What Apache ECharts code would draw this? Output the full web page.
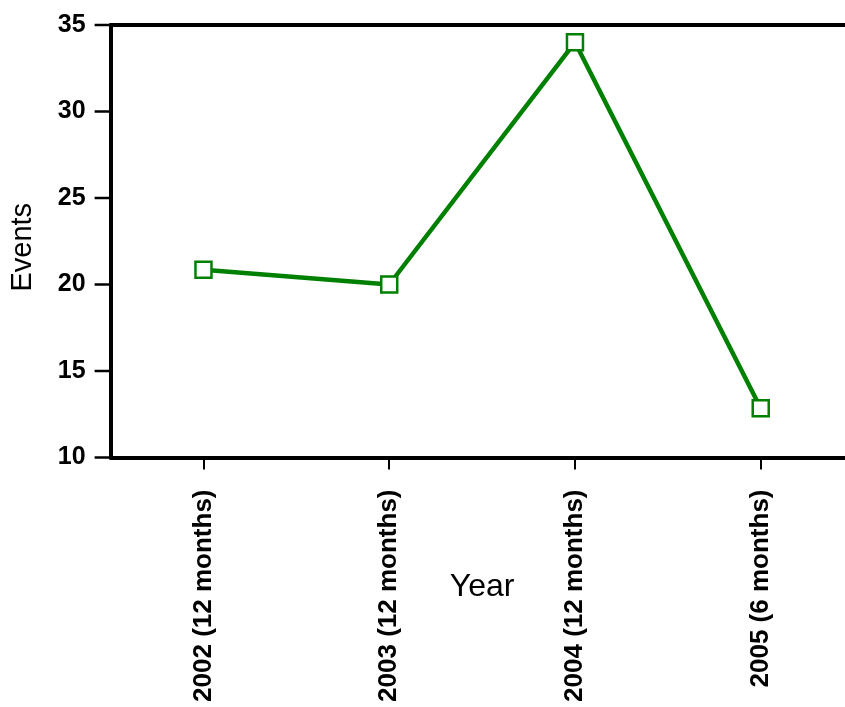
<!DOCTYPE html>
<html>
<head>
<meta charset="utf-8">
<script src="https://cdn.jsdelivr.net/npm/echarts@6/dist/echarts.min.js"></script>
<style>
  html, body { margin: 0; padding: 0; background: #fff; }
  #chart { width: 845px; height: 707px; }
</style>
</head>
<body>
<div id="chart"></div>
<script>
// Events recorded per year
const years = ['2002 (12 months)', '2003 (12 months)', '2004 (12 months)', '2005 (6 months)'];
const events = [20.85, 20, 34, 12.85];
const yTicks = { min: 10, max: 35, step: 5 };
const yTickValues = [10, 15, 20, 25, 30, 35];

const FONT = 'Arial, "Liberation Sans", sans-serif';
const GREEN = '#008000';
const TICK_LEN = 16;

const chart = echarts.init(document.getElementById('chart'), null, { renderer: 'canvas' });
chart.setOption({
  animation: false,
  backgroundColor: '#fff',
  grid: {
    left: 110.6,
    top: 25,
    width: 743,
    height: 432.5,
    containLabel: false,
    outerBoundsMode: 'none'
  },
  xAxis: [{
    type: 'category',
    data: years,
    boundaryGap: true,
    position: 'bottom',
    name: 'Year',
    nameLocation: 'middle',
    nameGap: 114,
    nameMoveOverlap: false,
    nameTextStyle: { fontFamily: FONT, fontSize: 32, color: '#000' },
    axisLine: { show: true, lineStyle: { color: '#000', width: 4 } },
    axisTick: { show: true, alignWithLabel: true, length: 12, lineStyle: { color: '#000', width: 2 } },
    axisLabel: {
      show: true,
      rotate: 90,
      margin: 32,
      fontFamily: FONT,
      fontSize: 26,
      fontWeight: 'bold',
      color: '#000'
    },
    splitLine: { show: false }
  }, {
    // top frame line
    type: 'category',
    data: years,
    position: 'top',
    axisLine: { show: true, lineStyle: { color: '#000', width: 4 } },
    axisTick: { show: false },
    axisLabel: { show: false },
    splitLine: { show: false }
  }],
  yAxis: {
    type: 'value',
    position: 'left',
    min: yTicks.min,
    max: yTicks.max,
    interval: yTicks.step,
    name: 'Events',
    nameLocation: 'middle',
    nameGap: 73,
    nameMoveOverlap: false,
    nameTextStyle: { fontFamily: FONT, fontSize: 29, color: '#000', padding: [0, 12, 0, 0] },
    axisLine: { show: true, lineStyle: { color: '#000', width: 4 } },
    axisTick: { show: false },
    axisLabel: {
      margin: 25,
      fontFamily: FONT,
      fontSize: 25,
      fontWeight: 'bold',
      color: '#000'
    },
    splitLine: { show: false }
  },
  series: [{
    type: 'line',
    data: events,
    symbol: 'rect',
    symbolSize: 16,
    showAllSymbol: true,
    lineStyle: { color: GREEN, width: 4.5 },
    itemStyle: { color: '#fff', borderColor: GREEN, borderWidth: 2.5 },
    z: 3
  }, {
    // outward tick marks on the value axis, placed through the y scale
    type: 'custom',
    silent: true,
    clip: false,
    z: 10,
    encode: { x: 0, y: 1 },
    data: yTickValues.map(v => [0, v]),
    renderItem: function (params, api) {
      const p = api.coord([0, api.value(1)]);
      const left = params.coordSys.x;
      return {
        type: 'line',
        shape: { x1: left - TICK_LEN, y1: p[1], x2: left, y2: p[1] },
        style: { stroke: '#000', lineWidth: 2.5 }
      };
    }
  }]
});
</script>
</body>
</html>
